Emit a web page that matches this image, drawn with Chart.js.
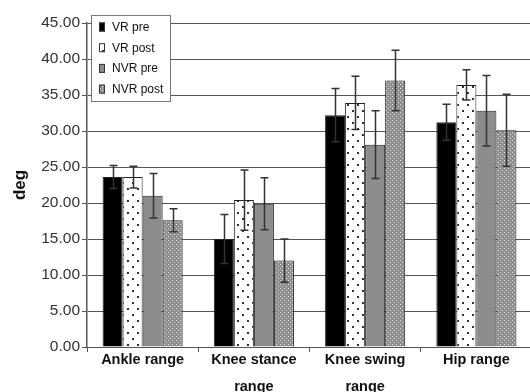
<!DOCTYPE html>
<html>
<head>
<meta charset="utf-8">
<script src="https://cdn.jsdelivr.net/npm/chart.js@4"></script>
<style>
html,body{margin:0;padding:0;background:#fff;overflow:hidden;}
#wrap{width:534px;height:402px;}
</style>
</head>
<body>
<div id="wrap"><canvas id="gaitChart" width="534" height="402"></canvas></div>
<script>
const categories = [
    "Ankle range",
    ["Knee stance","range"],
    ["Knee swing","range"],
    "Hip range"
];
const seriesNames = ["VR pre","VR post","NVR pre","NVR post"];

const vrPre   = [23.6, 15.0, 32.2, 31.2];
const vrPost  = [23.6, 20.4, 33.9, 36.4];
const nvrPre  = [21.0, 19.9, 28.1, 32.8];
const nvrPost = [17.6, 12.0, 37.0, 30.1];

const vrPreErr   = [1.6, 3.4, 3.7, 2.5];
const vrPostErr  = [1.5, 4.2, 3.7, 2.1];
const nvrPreErr  = [3.1, 3.6, 4.7, 4.9];
const nvrPostErr = [1.6, 3.0, 4.2, 5.0];

const yTicks = [0,5,10,15,20,25,30,35,40,45];

const FONT = "'Liberation Sans', Arial, sans-serif";

function dotPattern(){
    const c = document.createElement("canvas");
    c.width = 10; c.height = 12;
    const g = c.getContext("2d");
    g.fillStyle = "#fff";
    g.fillRect(0,0,10,12);
    g.fillStyle = "#333";
    g.fillRect(2,2,2,2);
    g.fillRect(7,8,2,2);
    return g.createPattern(c,"repeat");
}

function confettiPattern(){
    const c = document.createElement("canvas");
    c.width = 4; c.height = 4;
    const g = c.getContext("2d");
    g.fillStyle = "#8e8e8e";
    g.fillRect(0,0,4,4);
    g.fillStyle = "#e4e4e4";
    g.fillRect(0,0,1,1);
    g.fillRect(2,2,1,1);
    return g.createPattern(c,"repeat");
}

const fills = ["#000", dotPattern(), "#8c8c8c", confettiPattern()];

const errorBars = {
    id: "errorBars",
    afterDatasetsDraw(chart){
        const ctx = chart.ctx;
        const y = chart.scales.y;
        ctx.save();
        ctx.strokeStyle = "#333";
        ctx.lineWidth = 1.5;
        chart.data.datasets.forEach((ds,i)=>{
            const meta = chart.getDatasetMeta(i);
            meta.data.forEach((bar,j)=>{
                const v = ds.data[j];
                const e = ds.err[j];
                const top = y.getPixelForValue(v+e);
                const bot = y.getPixelForValue(v-e);
                const x = Math.round(bar.x)+0.5;
                ctx.beginPath();
                ctx.moveTo(x,top);
                ctx.lineTo(x,bot);
                ctx.moveTo(x-4,top);
                ctx.lineTo(x+4,top);
                ctx.moveTo(x-4,bot);
                ctx.lineTo(x+4,bot);
                ctx.stroke();
            });
        });
        ctx.restore();
    }
};

const boxLegend = {
    id: "boxLegend",
    afterDraw(chart){
        const ctx = chart.ctx;
        ctx.save();
        ctx.fillStyle = "#fff";
        ctx.fillRect(91,15,79,86);
        ctx.strokeStyle = "#777";
        ctx.lineWidth = 1;
        ctx.strokeRect(91.5,15.5,79,86);
        ctx.font = "12px " + FONT;
        ctx.textBaseline = "middle";
        chart.data.datasets.forEach((ds,i)=>{
            const cy = 27 + i*20.7;
            ctx.fillStyle = ds.backgroundColor;
            ctx.fillRect(99,cy-4.5,6,9);
            ctx.strokeStyle = "#333";
            ctx.strokeRect(99.5,cy-4,5,8);
            ctx.fillStyle = "#111";
            ctx.fillText(ds.label,112,cy+0.5);
        });
        ctx.restore();
    }
};

const values = [vrPre, vrPost, nvrPre, nvrPost];
const errs = [vrPreErr, vrPostErr, nvrPreErr, nvrPostErr];

new Chart(document.getElementById("gaitChart"), {
    type: "bar",
    data: {
        labels: categories,
        datasets: seriesNames.map((name,i)=>({
            label: name,
            data: values[i],
            err: errs[i],
            backgroundColor: fills[i],
            borderColor: "#222",
            borderWidth: 1,
            barPercentage: 1,
            categoryPercentage: 0.72
        }))
    },
    options: {
        responsive: false,
        animation: false,
        devicePixelRatio: 1,
        layout: { padding: { top: 23, right: 2, left: 0, bottom: 0 } },
        plugins: {
            legend: { display: false },
            tooltip: { enabled: false }
        },
        scales: {
            x: {
                afterFit(scale){ scale.height = 55; },
                grid: {
                    display: true,
                    drawOnChartArea: false,
                    color: "#555",
                    tickLength: 5
                },
                border: { color: "#555", width: 1 },
                ticks: {
                    color: "#111",
                    padding: -5.5,
                    font: { family: FONT, size: 14.5, weight: "bold", lineHeight: 1.86 }
                }
            },
            y: {
                min: 0,
                max: 45,
                afterFit(scale){ scale.width = 87; },
                afterBuildTicks(scale){
                    scale.ticks = yTicks.map(v=>({value:v}));
                },
                grid: { color: "#555", lineWidth: 1, tickLength: 5 },
                border: { color: "#555", width: 1.5 },
                ticks: {
                    color: "#333",
                    padding: 2,
                    font: { family: FONT, size: 15.5 },
                    callback: v => v.toFixed(2)
                },
                title: {
                    display: true,
                    text: "deg",
                    color: "#111",
                    padding: { top: 10, bottom: 0 },
                    font: { family: FONT, size: 17, weight: "bold" }
                }
            }
        }
    },
    plugins: [errorBars, boxLegend]
});
</script>
</body>
</html>
